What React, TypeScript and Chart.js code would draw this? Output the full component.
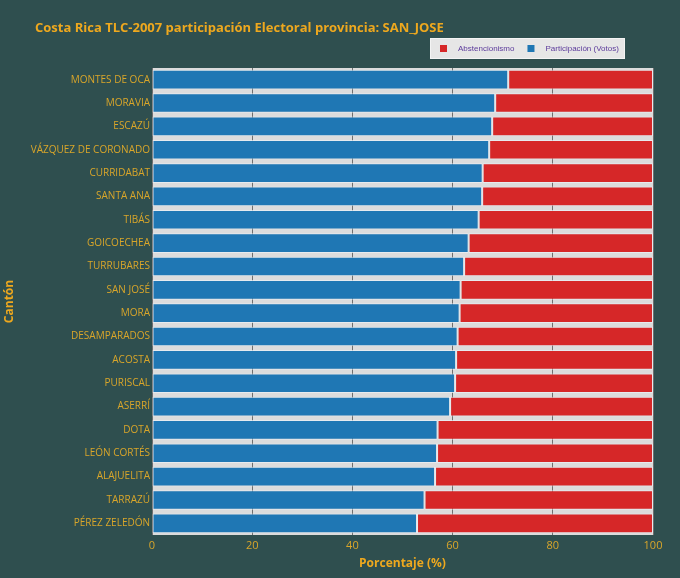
import { useEffect, useRef } from "react";
import { Chart, registerables } from "chart.js";

Chart.register(...registerables);

const cantones = [
  "MONTES DE OCA", "MORAVIA", "ESCAZÚ", "VÁZQUEZ DE CORONADO", "CURRIDABAT",
  "SANTA ANA", "TIBÁS", "GOICOECHEA", "TURRUBARES", "SAN JOSÉ",
  "MORA", "DESAMPARADOS", "ACOSTA", "PURISCAL", "ASERRÍ",
  "DOTA", "LEÓN CORTÉS", "ALAJUELITA", "TARRAZÚ", "PÉREZ ZELEDÓN",
];

const participacion = [
  71.1, 68.5, 67.9, 67.3, 66.0, 65.9, 65.2, 63.2, 62.3, 61.6,
  61.4, 61.0, 60.7, 60.5, 59.5, 57.0, 56.9, 56.5, 54.4, 52.9,
];

const abstencionismo = [
  28.9, 31.5, 32.1, 32.7, 34.0, 34.1, 34.8, 36.8, 37.7, 38.4,
  38.6, 39.0, 39.3, 39.5, 40.5, 43.0, 43.1, 43.5, 45.6, 47.1,
];

const xTicks = [0, 20, 40, 60, 80, 100];

const titulo = "Costa Rica TLC-2007 participación Electoral provincia: SAN_JOSE";

const BG = "#2f4f4f";
const GOLD = "#d9a62a";
const TITLE_GOLD = "#eea81e";
const BLUE = "#1f77b4";
const RED = "#d62728";

const decor = {
  id: "decor",
  beforeDraw(chart: any) {
    const { ctx, chartArea: a } = chart;
    ctx.save();
    ctx.fillStyle = "#dcdcdc";
    ctx.fillRect(a.left, a.top, a.right - a.left, a.bottom - a.top);
    ctx.restore();
  },
  afterDraw(chart: any) {
    const { ctx } = chart;
    ctx.save();
    // title
    ctx.font = "bold 13px 'Open Sans', sans-serif";
    ctx.fillStyle = TITLE_GOLD;
    ctx.textBaseline = "middle";
    ctx.textAlign = "left";
    ctx.fillText(titulo, 35, 28);

    // legend box
    ctx.fillStyle = "#e6e6e6";
    ctx.strokeStyle = "#f4f4f4";
    ctx.lineWidth = 1;
    ctx.fillRect(430.5, 38.5, 194, 20);
    ctx.strokeRect(430.5, 38.5, 194, 20);

    ctx.font = "8px 'Liberation Sans', Arial, sans-serif";
    const items = [...chart.data.datasets].reverse();
    let x = 440;
    items.forEach((ds: any) => {
      ctx.fillStyle = ds.backgroundColor;
      ctx.fillRect(x, 45, 7, 7);
      ctx.fillStyle = "#5b3a9b";
      ctx.fillText(ds.label, x + 18, 48.5);
      x += 18 + ctx.measureText(ds.label).width + 13;
    });
    ctx.restore();
  },
};

export default function App() {
  const canvasRef = useRef<HTMLCanvasElement>(null);

  useEffect(() => {
    document.body.style.margin = "0";
    document.body.style.background = BG;
    if (!canvasRef.current) return;
    const ctx = canvasRef.current.getContext("2d");
    if (!ctx) return;

    Chart.defaults.font.family = "'Open Sans', sans-serif";

    const chart = new Chart(ctx, {
      type: "bar",
      data: {
        labels: cantones,
        datasets: [
          {
            label: "Participación (Votos)",
            data: participacion,
            backgroundColor: BLUE,
            borderColor: "rgba(235,240,245,0.75)",
            borderWidth: 1,
            borderSkipped: false,
            barPercentage: 0.84,
            categoryPercentage: 1,
          },
          {
            label: "Abstencionismo",
            data: abstencionismo,
            backgroundColor: RED,
            borderColor: "rgba(235,240,245,0.75)",
            borderWidth: 1,
            borderSkipped: false,
            barPercentage: 0.84,
            categoryPercentage: 1,
          },
        ],
      },
      options: {
        indexAxis: "y",
        responsive: true,
        maintainAspectRatio: false,
        animation: false,
        layout: { padding: { top: 68, right: 27, left: 0, bottom: 0 } },
        plugins: {
          legend: { display: false },
          title: { display: false },
          tooltip: { enabled: false },
        },
        scales: {
          x: {
            stacked: true,
            min: 0,
            max: 100,
            afterBuildTicks: (s: any) => {
              s.ticks = xTicks.map((v) => ({ value: v }));
            },
            afterFit: (s: any) => {
              s.height = 43;
            },
            grid: { color: "#6e6e6e", lineWidth: 1, drawTicks: false },
            border: { display: false },
            ticks: { color: GOLD, font: { size: 11 }, padding: 4 },
            title: {
              display: true,
              text: "Porcentaje (%)",
              color: TITLE_GOLD,
              font: { size: 12, weight: "bold" },
              padding: { top: 2, bottom: 7 },
            },
          },
          y: {
            stacked: true,
            afterFit: (s: any) => {
              s.width = 152;
            },
            grid: { display: false, drawTicks: false, tickLength: 0 },
            border: { display: false },
            ticks: { color: GOLD, font: { size: 10 }, padding: 2 },
            title: {
              display: true,
              text: "Cantón",
              color: TITLE_GOLD,
              font: { size: 12, weight: "bold" },
              padding: { top: 2, bottom: 0 },
            },
          },
        },
      },
      plugins: [decor],
    });

    return () => chart.destroy();
  }, []);

  return (
    <div style={{ width: 680, height: 578, background: BG, position: "relative" }}>
      <canvas ref={canvasRef}></canvas>
    </div>
  );
}
